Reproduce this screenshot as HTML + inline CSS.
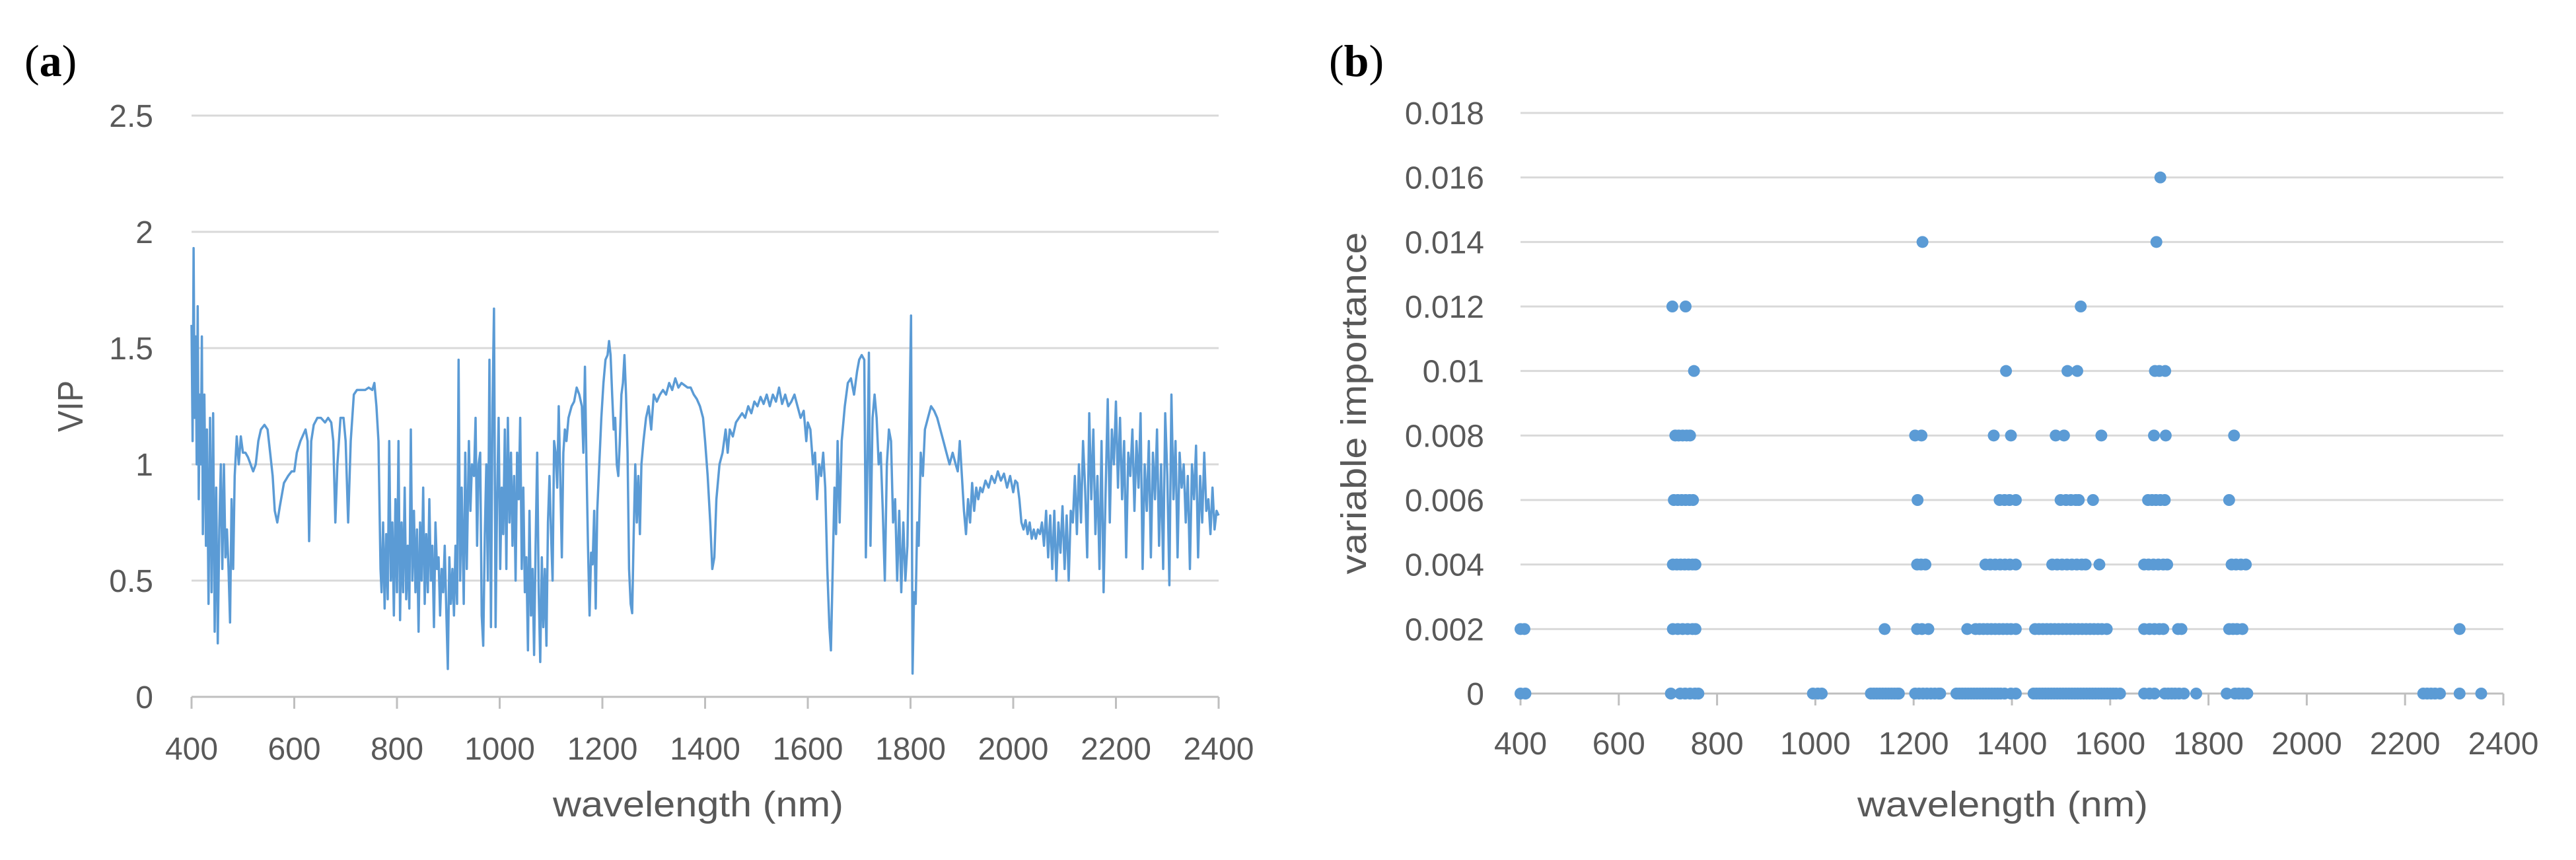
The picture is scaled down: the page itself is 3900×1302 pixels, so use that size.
<!DOCTYPE html>
<html><head><meta charset="utf-8"><style>
html,body{margin:0;padding:0;background:#fff;}
svg{display:block;}
text{font-family:"Liberation Sans",sans-serif;fill:#595959;}
</style></head>
<body>
<svg id="fig" width="3900" height="1302" viewBox="0 0 3900 1302" xmlns="http://www.w3.org/2000/svg">
<text x="37" y="115" style="font-family:'Liberation Serif',serif;font-size:68px;fill:#000">(<tspan font-weight="bold">a</tspan>)</text>
<text x="2012" y="115" style="font-family:'Liberation Serif',serif;font-size:68px;fill:#000">(<tspan font-weight="bold">b</tspan>)</text>
<g id="chartA"></g>
<g id="chartB"></g>
</svg>
<script>
const xTicks=[400,600,800,1000,1200,1400,1600,1800,2000,2200,2400];
const vipTicks=[0,0.5,1,1.5,2,2.5];
const vipTickLabels=["0","0.5","1","1.5","2","2.5"];
const impTicks=[0,0.002,0.004,0.006,0.008,0.01,0.012,0.014,0.016,0.018];
const impTickLabels=["0","0.002","0.004","0.006","0.008","0.01","0.012","0.014","0.016","0.018"];
const vipSeries=[[400,1.6],[402,1.1],[404,1.93],[406,1.2],[408,1.55],[410,1.0],[412,1.68],[414,0.85],[416,1.3],[418,1.0],[420,1.55],[422,0.7],[425,1.3],[428,0.65],[430,1.15],[433,0.4],[436,1.2],[439,0.45],[442,1.22],[445,0.28],[448,0.9],[451,0.23],[454,0.72],[457,1.0],[460,0.55],[463,1.0],[466,0.6],[469,0.72],[472,0.55],[475,0.32],[478,0.85],[481,0.55],[484,0.95],
[488,1.12],[492,1.0],[496,1.12],[500,1.05],[505,1.05],[510,1.03],[515,1.0],[520,0.97],[525,1.0],[530,1.1],[535,1.15],[542,1.17],[548,1.15],[553,1.05],[558,0.95],[562,0.8],[567,0.75],[572,0.82],[580,0.92],[588,0.95],[595,0.97],[600,0.97],[605,1.05],[612,1.1],[618,1.13],[622,1.15],[626,1.1],[629,0.67],[633,1.1],[638,1.17],[645,1.2],[652,1.2],[660,1.18],[666,1.2],[672,1.18],[676,1.1],[680,0.75],[684,1.0],[690,1.2],[696,1.2],[700,1.1],[705,0.75],[710,1.1],[716,1.3],[722,1.32],[730,1.32],[738,1.32],[745,1.33],[752,1.32],[756,1.35],[760,1.25],[764,1.1],[768,0.55],
[770,0.45],[773,0.75],[776,0.38],[779,0.7],[782,0.42],[785,1.1],[788,0.5],[791,0.75],[794,0.35],[797,0.85],[800,0.45],[803,1.1],[806,0.33],[809,0.75],[812,0.45],[815,0.9],[818,0.42],[821,0.65],[824,0.38],[827,1.15],[830,0.5],[833,0.8],[836,0.45],[839,0.72],[842,0.28],[845,0.75],[848,0.5],[851,0.9],[854,0.4],[857,0.7],[860,0.45],[863,0.85],[866,0.5],[869,0.65],[872,0.3],[875,0.75],[878,0.55],[881,0.6],[884,0.35],[887,0.55],[890,0.45],[893,0.65],[896,0.38],[899,0.12],[902,0.6],[905,0.4],[908,0.55],[911,0.35],[914,0.65],[917,0.4],[920,1.45],[923,0.5],[926,0.9],
[930,0.4],[933,1.05],[936,0.55],[940,1.1],[943,0.8],[946,1.0],[950,0.95],[953,1.2],[956,0.65],[959,1.0],[962,1.05],[965,0.35],[968,0.22],[971,0.7],[974,1.0],[977,0.5],[980,1.45],[983,0.3],[986,1.25],[989,1.67],[992,0.3],[995,0.85],[998,1.2],[1001,0.55],[1004,0.9],[1007,0.7],[1010,1.15],[1013,0.55],[1016,1.2],[1019,0.75],[1022,1.05],[1025,0.65],[1028,0.95],[1031,0.5],[1034,1.05],[1037,0.85],[1040,1.2],[1043,0.55],[1046,0.9],[1049,0.45],[1052,0.6],[1055,0.2],[1058,0.8],[1061,0.35],[1064,0.55],[1067,0.18],[1070,0.65],[1073,1.05],[1076,0.45],[1079,0.15],[1082,0.6],[1085,0.3],[1088,0.55],[1091,0.22],[1094,0.75],[1097,0.95],[1100,0.7],[1103,0.5],[1106,1.1],[1109,1.05],[1112,0.9],[1115,1.25],[1118,0.95],[1121,0.6],[1124,1.05],[1127,1.15],[1130,1.1],[1134,1.2],[1140,1.25],[1145,1.27],[1150,1.33],[1155,1.3],[1160,1.25],[1163,1.05],[1166,1.42],[1169,1.0],[1172,0.65],[1175,0.35],[1178,0.62],[1181,0.57],[1184,0.8],[1187,0.38],[1190,0.8],[1194,1.0],[1198,1.2],[1202,1.35],[1206,1.45],[1210,1.47],[1213,1.53],[1216,1.47],[1219,1.3],[1222,1.15],[1225,1.2],[1228,1.0],[1231,0.95],[1234,1.1],[1237,1.3],[1240,1.35],[1243,1.47],[1246,1.3],[1249,1.05],[1252,0.55],[1255,0.4],[1258,0.36],[1261,0.7],[1264,1.0],[1267,0.75],[1270,0.95],[1273,0.7],[1276,1.0],[1280,1.1],[1285,1.2],[1290,1.25],[1295,1.15],[1300,1.3],[1306,1.27],[1312,1.3],[1318,1.32],[1324,1.3],[1330,1.35],[1336,1.32],[1342,1.37],[1348,1.33],[1354,1.35],[1360,1.34],[1366,1.33],[1372,1.33],[1378,1.3],[1384,1.28],[1390,1.25],[1396,1.2],[1400,1.1],[1405,0.95],[1410,0.75],[1414,0.55],[1418,0.6],[1422,0.85],[1428,1.0],[1434,1.05],[1440,1.15],[1444,1.05],[1448,1.15],[1454,1.12],[1460,1.18],[1466,1.2],[1472,1.22],[1478,1.2],[1484,1.25],[1490,1.22],[1496,1.27],[1502,1.25],[1508,1.29],[1514,1.26],[1520,1.3],[1526,1.25],[1532,1.3],[1538,1.27],[1544,1.33],[1550,1.26],[1556,1.3],[1562,1.25],[1568,1.27],[1574,1.3],[1580,1.25],[1586,1.2],[1592,1.23],[1597,1.1],
[1600,1.18],[1605,1.15],[1610,1.0],[1614,1.05],[1618,0.85],[1622,1.0],[1626,0.95],[1630,1.05],[1634,0.9],[1638,0.55],[1642,0.3],[1645,0.2],[1648,0.5],[1652,0.9],[1655,0.7],[1658,1.1],[1662,0.75],[1666,1.1],[1672,1.25],[1678,1.35],[1684,1.37],[1690,1.3],[1696,1.4],[1700,1.45],[1705,1.47],[1710,1.45],[1713,0.6],[1716,1.0],[1719,1.48],[1722,0.65],[1726,1.2],[1730,1.3],[1734,1.2],[1738,1.0],[1742,1.05],[1746,0.8],[1750,0.5],[1754,1.0],[1758,1.15],[1762,1.1],[1766,0.75],[1770,0.85],[1774,0.5],[1778,0.8],[1782,0.45],[1786,0.75],[1790,0.5],[1794,0.65],[1798,1.2],[1801,1.64],[1804,0.1],[1807,0.45],[1810,0.4],[1813,0.75],[1816,0.65],[1820,1.05],[1824,0.95],[1828,1.15],[1834,1.2],[1840,1.25],[1846,1.23],[1852,1.2],[1858,1.15],[1864,1.1],[1870,1.05],[1876,1.0],[1882,1.05],[1888,1.0],[1892,0.97],[1896,1.1],[1900,0.95],[1904,0.8],[1908,0.7],[1912,0.85],[1916,0.75],[1920,0.92],[1924,0.8],[1928,0.9],[1932,0.85],[1936,0.9],[1940,0.88],[1946,0.93],[1952,0.9],[1958,0.95],[1964,0.92],[1970,0.97],[1976,0.93],[1982,0.96],[1988,0.9],[1994,0.95],[2000,0.88],[2004,0.93],[2008,0.92],[2012,0.85],[2016,0.75],[2020,0.72],[2024,0.76],[2028,0.7],[2032,0.75],[2036,0.68],[2040,0.72],[2044,0.68],[2048,0.72],[2052,0.7],[2056,0.75],[2060,0.65],[2064,0.8],[2068,0.6],[2072,0.78],[2076,0.55],[2080,0.8],[2084,0.5],[2088,0.75],[2092,0.62],[2096,0.82],[2100,0.55],[2104,0.78],[2108,0.5],[2112,0.8],[2116,0.75],[2120,0.95],[2124,0.7],[2128,1.0],[2132,0.75],[2136,1.1],[2140,0.9],[2144,0.6],[2148,1.22],[2152,0.85],[2156,1.15],[2160,0.7],[2164,0.95],[2168,0.55],[2172,1.1],[2176,0.45],[2180,0.9],[2184,1.28],[2188,0.75],[2192,1.15],[2196,1.0],[2200,1.27],[2204,0.9],[2208,1.2],[2212,0.85],[2216,1.1],[2220,0.6],[2224,1.05],[2228,0.95],[2232,1.15],[2236,0.8],[2240,1.1],[2244,0.9],[2248,1.22],[2252,0.55],[2256,1.0],[2260,0.8],[2264,1.1],[2268,0.6],[2272,1.05],[2276,0.85],[2280,1.15],[2284,0.65],[2288,1.0],[2292,0.55],[2296,1.22],[2300,0.95],[2304,0.48],[2308,1.3],[2312,0.85],[2316,1.1],[2320,0.6],[2324,1.05],[2328,0.9],[2332,1.0],[2336,0.75],[2340,0.95],[2344,0.55],[2348,1.0],[2352,0.85],[2356,1.08],[2360,0.6],[2364,0.95],[2368,0.75],[2372,1.05],[2376,0.8],[2380,0.85],[2384,0.7],[2388,0.9],[2392,0.72],[2396,0.8],[2400,0.78]];
const impLevels=[0,0.002,0.004,0.006,0.008,0.01,0.012,0.014,0.016];
const impWavelengths=[
[400,410,706,725,735,745,755,762,995,1005,1013,1113,1119,1125,1131,1137,1143,1149,1155,1161,1167,1170,1203,1211,1219,1227,1235,1243,1251,1254,1287,1293,1299,1305,1311,1317,1323,1329,1335,1341,1347,1353,1359,1365,1371,1377,1385,1398,1408,1444,1450,1456,1462,1468,1474,1480,1486,1492,1498,1504,1510,1516,1522,1528,1534,1540,1546,1552,1558,1564,1570,1576,1582,1588,1594,1600,1606,1612,1620,1669,1680,1690,1711,1718,1725,1732,1740,1750,1775,1837,1854,1862,1870,1879,2237,2245,2253,2261,2271,2311,2355],
[400,408,710,720,730,740,750,756,1141,1207,1217,1230,1309,1326,1334,1342,1350,1358,1366,1374,1382,1390,1398,1408,1447,1455,1463,1471,1479,1487,1495,1503,1511,1519,1527,1535,1543,1551,1559,1567,1575,1583,1593,1669,1680,1690,1700,1708,1738,1745,1842,1850,1858,1869,2311],
[710,718,726,734,742,750,756,1207,1215,1224,1346,1356,1366,1376,1386,1396,1408,1482,1492,1502,1512,1522,1532,1542,1550,1578,1669,1678,1688,1698,1708,1716,1847,1856,1866,1876],
[712,720,728,736,744,751,1208,1375,1385,1395,1408,1499,1510,1520,1530,1536,1565,1677,1685,1693,1702,1711,1842],
[715,722,730,738,745,1203,1216,1363,1398,1489,1506,1582,1689,1713,1852],
[753,1388,1513,1533,1691,1700,1712],
[709,736,1540],
[1218,1694],
[1702]];

const svg=document.getElementById('fig');
const NS='http://www.w3.org/2000/svg';
function el(parent,tag,attrs){const e=document.createElementNS(NS,tag);for(const k in attrs)e.setAttribute(k,attrs[k]);parent.appendChild(e);return e;}

function drawAxes(g,cfg){
  const {x0,x1,yTop,yBot,yMax,yTicks,yLabels,labelRight,xLabelY,title,titleX,titleY,yTitle,yTitleX,yTitleLen}=cfg;
  const sx=v=>x0+(v-400)/(2400-400)*(x1-x0);
  const sy=v=>yBot-v/yMax*(yBot-yTop);
  yTicks.forEach((t,i)=>{
    if(i>0){const l=el(g,'line',{x1:x0,x2:x1,y1:sy(t),y2:sy(t),stroke:'#d9d9d9','stroke-width':3});
    
    }
    const tx=el(g,'text',{x:labelRight,y:sy(t)+17,'text-anchor':'end','font-size':48});
    tx.textContent=yLabels[i];
    
    
  });
  const ax=el(g,'line',{x1:x0,x2:x1,y1:yBot,y2:yBot,stroke:'#bfbfbf','stroke-width':3});
  
  
  xTicks.forEach(t=>{
    const tk=el(g,'line',{x1:sx(t),x2:sx(t),y1:yBot,y2:yBot+18,stroke:'#bfbfbf','stroke-width':3});
    
    
    const tx=el(g,'text',{x:sx(t),y:xLabelY,'text-anchor':'middle','font-size':48});
    tx.textContent=t;
    
    
  });
  const xt=el(g,'text',{x:titleX,y:titleY,'text-anchor':'middle','font-size':54,textLength:440,lengthAdjust:'spacingAndGlyphs'});
  xt.textContent=title;
  
  
  const cy=(yTop+yBot)/2;
  const yt=el(g,'text',{x:yTitleX,y:cy,'text-anchor':'middle','font-size':54,transform:`rotate(-90 ${yTitleX} ${cy})`,textLength:yTitleLen,lengthAdjust:'spacingAndGlyphs'});
  yt.textContent=yTitle;
  
  
  return {sx,sy};
}

const gA=document.getElementById('chartA');
const A=drawAxes(gA,{x0:290,x1:1845,yTop:175,yBot:1055,yMax:2.5,yTicks:vipTicks,yLabels:vipTickLabels,labelRight:232,xLabelY:1150,title:'wavelength (nm)',titleX:1057,titleY:1236,yTitle:'VIP',yTitleX:125,yTitleLen:78});
const d=vipSeries.map((p,i)=>(i?'L':'M')+A.sx(p[0]).toFixed(1)+' '+A.sy(p[1]).toFixed(1)).join(' ');
const path=el(gA,'path',{d:d,fill:'none',stroke:'#5b9bd5','stroke-width':3.5,'stroke-linejoin':'round'});



const gB=document.getElementById('chartB');
const B=drawAxes(gB,{x0:2302,x1:3790,yTop:171,yBot:1050,yMax:0.018,yTicks:impTicks,yLabels:impTickLabels,labelRight:2247,xLabelY:1142,title:'wavelength (nm)',titleX:3032,titleY:1236,yTitle:'variable importance',yTitleX:2068,yTitleLen:518});
impLevels.forEach((lv,i)=>{
  impWavelengths[i].forEach(w=>{
    const c=el(gB,'ellipse',{cx:B.sx(w),cy:B.sy(lv),rx:9,ry:9,fill:'#5b9bd5'});
    
    
  });
});
</script>
</body></html>
